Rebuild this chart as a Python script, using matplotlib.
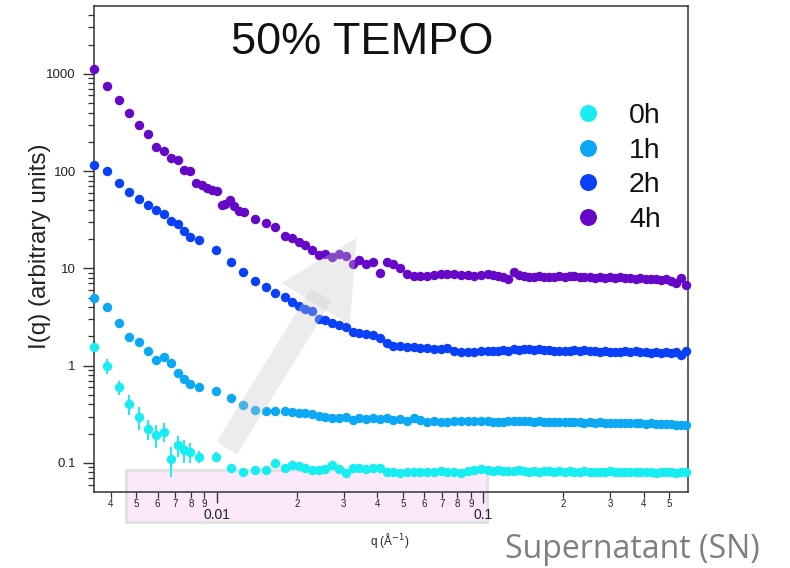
import numpy as np
import matplotlib
matplotlib.use("Agg")
import matplotlib.pyplot as plt
import matplotlib.transforms as mtransforms
from matplotlib.patches import Rectangle, Polygon
from matplotlib.ticker import LogLocator, FuncFormatter, NullFormatter

plt.rcParams['font.family'] = ['Liberation Sans', 'DejaVu Sans']

# ---- data: q in 1/A, I(q) in arbitrary units ----
labels = ["0h", "1h", "2h", "4h"]
colors = ["#18eef2", "#0ca8f4", "#0a40f8", "#6608c8"]

q_low = [0.003466, 0.003867, 0.004290, 0.004688, 0.005099, 0.005510, 0.005920,
         0.006344, 0.006740, 0.007141, 0.007561, 0.007943, 0.008604, 0.009940,
         0.011284, 0.012584, 0.013918, 0.015305, 0.016592, 0.018040]
q_low_4h = [0.003466, 0.003867, 0.004290, 0.004688, 0.005099, 0.005510, 0.005920,
            0.006344, 0.006740, 0.007141, 0.007561, 0.007943, 0.008363, 0.008785,
            0.009220, 0.009627, 0.010026, 0.010441, 0.010771, 0.011218, 0.011613,
            0.012094, 0.012625, 0.013918, 0.015305, 0.016592, 0.018040]
q_mid = [0.0191, 0.0203, 0.0215, 0.0228, 0.0242, 0.0256, 0.0272, 0.0288, 0.0305,
         0.0324, 0.0343, 0.0364, 0.0386, 0.0409, 0.0434, 0.0460, 0.0488, 0.0517,
         0.0548, 0.0581, 0.0616, 0.0653, 0.0692, 0.0734, 0.0778, 0.0825, 0.0874,
         0.0927, 0.0983]
q_high = [0.104, 0.109, 0.114, 0.119, 0.124, 0.130, 0.136, 0.142, 0.148, 0.155,
          0.162, 0.169, 0.177, 0.185, 0.193, 0.202, 0.211, 0.220, 0.230, 0.240,
          0.251, 0.262, 0.274, 0.286, 0.299, 0.313, 0.327, 0.341, 0.357, 0.373,
          0.389, 0.407, 0.425, 0.444, 0.464, 0.485, 0.507, 0.530, 0.553, 0.578]

# 0h
I0_low = [1.567, 0.993, 0.600, 0.404, 0.299, 0.224, 0.194, 0.210, 0.109, 0.153,
          0.136, 0.131, 0.116, 0.116, 0.0882, 0.0802, 0.0847, 0.0847, 0.1007, 0.0882]
err0_low = [0.22, 0.17, 0.10, 0.09, 0.08, 0.05, 0.052, 0.046, 0.038, 0.037,
            0.037, 0.031, 0.017, 0.014, 0.010, 0.006, 0.005, 0.005, 0.005, 0.005]
I0_mid = [0.0954, 0.0930, 0.0880, 0.0850, 0.0850, 0.0860, 0.0954, 0.0860, 0.0790,
          0.0880, 0.0880, 0.0870, 0.0880, 0.0890, 0.0810, 0.0800, 0.0795, 0.0800,
          0.0814, 0.0814, 0.0814, 0.0814, 0.0820, 0.0810, 0.0800, 0.0795, 0.0830,
          0.0847, 0.0860]
I0_high = [0.0840, 0.0830, 0.0845, 0.0825, 0.0835, 0.0820, 0.0840, 0.0830, 0.0815,
           0.0825, 0.0810, 0.0830, 0.0820, 0.0815, 0.0825, 0.0810, 0.0820, 0.0805,
           0.0815, 0.0820, 0.0810, 0.0800, 0.0815, 0.0805, 0.0820, 0.0810, 0.0800,
           0.0815, 0.0805, 0.0810, 0.0800, 0.0815, 0.0805, 0.0795, 0.0810, 0.0800,
           0.0805, 0.0795, 0.0810, 0.0800]

# 1h
I1_low = [5.00, 4.04, 2.75, 1.99, 1.76, 1.43, 1.14, 1.24, 1.06, 0.847,
          0.735, 0.649, 0.600, 0.553, 0.462, 0.397, 0.350, 0.342, 0.342, 0.342]
I1_mid = [0.338, 0.330, 0.326, 0.316, 0.306, 0.300, 0.290, 0.288, 0.295, 0.278,
          0.292, 0.282, 0.288, 0.281, 0.288, 0.277, 0.281, 0.272, 0.288, 0.277,
          0.262, 0.270, 0.266, 0.266, 0.272, 0.272, 0.272, 0.272, 0.272]
I1_high = [0.268, 0.265, 0.264, 0.266, 0.268, 0.270, 0.268, 0.270, 0.268, 0.266,
           0.267, 0.264, 0.266, 0.263, 0.265, 0.262, 0.264, 0.261, 0.263, 0.260,
           0.262, 0.259, 0.261, 0.258, 0.260, 0.257, 0.259, 0.256, 0.258, 0.255,
           0.256, 0.253, 0.255, 0.251, 0.253, 0.249, 0.250, 0.246, 0.248, 0.244]

# 2h
I2_low = [116.4, 100.2, 76.0, 60.6, 52.0, 45.2, 39.8, 36.5, 30.7, 28.6,
          24.2, 21.0, 19.6, 15.5, 11.7, 9.12, 7.43, 6.39, 5.59, 5.05]
I2_mid = [4.52, 4.11, 3.87, 3.61, 3.02, 2.95, 2.75, 2.62, 2.50, 2.22,
          2.17, 2.12, 2.07, 1.93, 1.71, 1.61, 1.59, 1.57, 1.54, 1.52,
          1.51, 1.47, 1.48, 1.53, 1.43, 1.39, 1.39, 1.39, 1.40]
I2_high = [1.40, 1.42, 1.41, 1.44, 1.42, 1.47, 1.45, 1.48, 1.47, 1.46,
           1.48, 1.45, 1.44, 1.42, 1.43, 1.40, 1.41, 1.44, 1.42, 1.45,
           1.43, 1.40, 1.39, 1.41, 1.38, 1.37, 1.39, 1.40, 1.38, 1.40,
           1.37, 1.39, 1.36, 1.38, 1.36, 1.37, 1.34, 1.38, 1.30, 1.42]

# 4h
I4_low = [1112, 755, 534, 398, 298, 242, 178, 162, 135, 130,
          102, 100, 76.0, 71.5, 66.6, 64.4, 62.4, 45.2, 45.9, 50.5,
          44.1, 39.2, 38.3, 32.4, 29.5, 26.4, 21.5]
I4_mid = [20.3, 18.5, 17.4, 15.3, 13.7, 14.2, 13.2, 14.2, 13.4, 11.1,
          12.1, 11.2, 11.7, 9.0, 11.6, 11.0, 10.1, 8.75, 8.35, 8.35,
          8.41, 8.65, 8.75, 8.86, 8.71, 8.55, 8.50, 8.35, 8.55]
I4_high = [8.75, 8.55, 8.35, 8.16, 7.80, 9.20, 8.55, 8.35, 8.25, 8.16,
           8.35, 8.16, 8.25, 8.16, 8.35, 8.16, 8.45, 8.35, 8.16, 8.07,
           8.25, 7.97, 8.16, 7.97, 8.07, 7.97, 8.07, 7.88, 7.97, 7.78,
           7.88, 7.69, 7.78, 7.69, 7.60, 7.69, 7.43, 7.00, 7.90, 6.80]

series = [
    (q_low + q_mid + q_high, I0_low + I0_mid + I0_high),
    (q_low + q_mid + q_high, I1_low + I1_mid + I1_high),
    (q_low + q_mid + q_high, I2_low + I2_mid + I2_high),
    (q_low_4h + q_mid + q_high, I4_low + I4_mid + I4_high),
]

W, H = 790, 568
fig = plt.figure(figsize=(W / 100, H / 100), dpi=100)
# pixel coordinates, origin top-left
pix = mtransforms.Affine2D().scale(1 / 100., -1 / 100.).translate(0, H / 100) + fig.dpi_scale_trans

ax = fig.add_axes([94 / W, 1 - 492 / H, (688 - 94) / W, (492 - 6) / H])
ax.set_facecolor("none")

# pink highlight band behind the q axis
fig.add_artist(Rectangle((126, 469.5), 361, 52, transform=pix, facecolor="#fbe9fb",
                         edgecolor="#e2e2e2", linewidth=2.2, zorder=-1))

ax.errorbar(q_low, I0_low, yerr=err0_low, fmt="none", ecolor=colors[0],
            elinewidth=1.4, capsize=0, clip_on=False, zorder=2)
for (q, I), c, lab in zip(series, colors, labels):
    ax.plot(q, I, "o", ms=6.8, color=c, mec=c, mew=0, label=lab,
            clip_on=False, zorder=3)

ax.set_xscale("log")
ax.set_yscale("log")
ax.set_xlim(0.003466, 0.587)
ax.set_ylim(0.0503, 4980)

ax.xaxis.set_major_locator(LogLocator(base=10))
ax.xaxis.set_minor_locator(LogLocator(base=10, subs=np.arange(2, 10)))
ax.xaxis.set_major_formatter(FuncFormatter(lambda v, p: "%g" % v))
ax.xaxis.set_minor_formatter(
    FuncFormatter(lambda v, p: "%d" % round(v / 10 ** np.floor(np.log10(v) + 1e-9))))
ax.yaxis.set_major_locator(LogLocator(base=10))
ax.yaxis.set_minor_locator(LogLocator(base=10, subs=np.arange(2, 10)))
ax.yaxis.set_major_formatter(FuncFormatter(lambda v, p: "%g" % v))
ax.yaxis.set_minor_formatter(NullFormatter())

ax.tick_params(axis="x", which="major", length=8, width=1, labelsize=10, pad=3.5,
               color="#333333", labelcolor="#222222")
ax.tick_params(axis="x", which="minor", length=4, width=0.9, labelsize=7, pad=1,
               color="#333333", labelcolor="#222222")
ax.tick_params(axis="y", which="major", length=8, width=1, labelsize=9.5, pad=5,
               color="#333333", labelcolor="#222222")
ax.tick_params(axis="y", which="minor", length=4, width=0.9, color="#333333")
for s in ax.spines.values():
    s.set_color("#333333")
    s.set_linewidth(1.1)

ax.text(0.451, 0.925, "50% TEMPO", transform=ax.transAxes, ha="center", va="center",
        fontsize=32.5, color="#111111")

leg = ax.legend(loc="upper left", bbox_to_anchor=(575, 103), bbox_transform=pix,
                frameon=False, fontsize=20.5, markerscale=1.8, handlelength=0.9,
                handletextpad=1.0, labelspacing=0.3, borderpad=0, borderaxespad=0)
for t in leg.get_texts():
    t.set_color("#111111")

fig.text(40, 246, "I(q) (arbitrary units)", transform=pix, rotation=90,
         ha="center", va="center", fontsize=17.5, color="#222222")
fig.text(390, 540, "q (Å$^{-1}$)", transform=pix, ha="center", va="center",
         fontsize=8.5, color="#222222")
fig.text(505, 558, "Supernatant (SN)", transform=pix, ha="left", va="baseline",
         fontsize=23, color="#7f7f7f", family=["Open Sans", "DejaVu Sans"])

# grey arrow drawn over the curves
tail = np.array([226.7, 448.3])
tip = np.array([356.7, 237.7])
u = (tip - tail) / np.hypot(*(tip - tail))
n = np.array([-u[1], u[0]])
base = tip - 78 * u
shaft_end = base + 11 * u
shaft = [tail + 12 * n, shaft_end + 12 * n, shaft_end - 12 * n, tail - 12 * n]
head = [tip, base + 40 * n, base - 40 * n]
for poly in (shaft, head):
    fig.add_artist(Polygon(poly, closed=True, transform=pix, facecolor="#c8c8c8",
                           edgecolor="none", alpha=0.33, zorder=5))

fig.savefig("out.png", dpi=100, facecolor="white")
